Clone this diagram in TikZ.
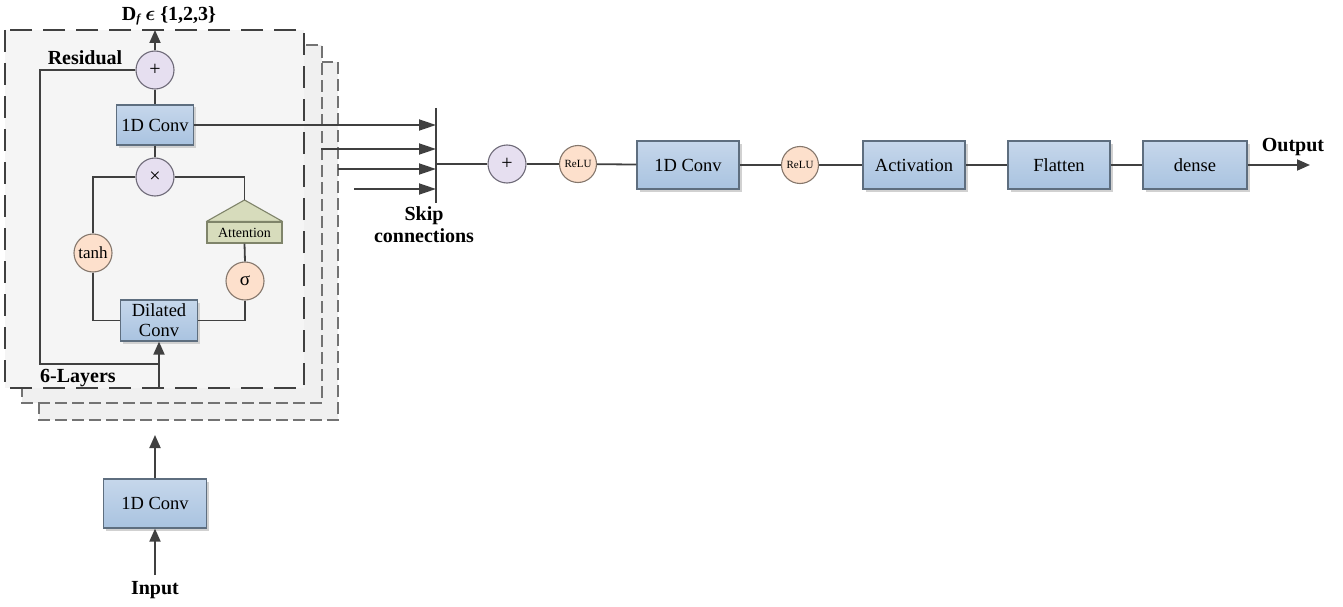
\documentclass[tikz,border=0pt]{standalone}
\usepackage{fontspec}
\setmainfont{Liberation Serif}
\usetikzlibrary{arrows.meta,shadows,calc}
\definecolor{ln}{HTML}{404040}
\definecolor{boxtop}{HTML}{C6D7EB}
\definecolor{boxbot}{HTML}{A9C3E0}
\definecolor{boxdraw}{HTML}{5E6E7F}
\definecolor{lav}{HTML}{E6DFF0}
\definecolor{lavdraw}{HTML}{6E6A78}
\definecolor{org}{HTML}{FDE0CC}
\definecolor{orgdraw}{HTML}{85776C}
\definecolor{olive}{HTML}{D7DCBC}
\definecolor{olivedraw}{HTML}{7F846A}
\tikzset{
  lin/.style={draw=ln, line width=1.8pt},
  arr/.style={lin, -{Triangle[length=13pt,width=11pt]}},
  sarr/.style={lin, -{Triangle[length=17pt,width=11pt]}},
  bx/.style={draw=boxdraw, line width=1.2pt, top color=boxtop, bottom color=boxbot,
    inner sep=0pt, align=center, font=\fontsize{18.5}{20}\selectfont,
    general shadow={shadow xshift=2.5pt, shadow yshift=-2.5pt, fill=black!18}},
  opc/.style={circle, draw=lavdraw, line width=1.1pt, fill=lav, minimum size=38pt, inner sep=0pt,
    font=\fontsize{20}{20}\selectfont},
  actc/.style={circle, draw=orgdraw, line width=1.1pt, fill=org, minimum size=38pt, inner sep=0pt},
  lbl/.style={font=\fontsize{20}{22}\selectfont\bfseries, align=center, inner sep=0pt},
  frontframe/.style={draw=ln, line width=1.8pt, dash pattern=on 22pt off 11pt, fill=black!4},
  backframe/.style={draw=black!55, line width=1.4pt, dash pattern=on 12pt off 5pt, fill=black!6},
}
\begin{document}
\begin{tikzpicture}[x=1pt,y=-1pt]
\useasboundingbox (0,0) rectangle (1343,607);
% stacked frames
\path[backframe] (39,62) rectangle (338,420);
\path[backframe] (22,45) rectangle (322,403);
\path[frontframe] (5,30) rectangle (304,388);
% inner block
\node[opc] (plus1) at (155,70) {+};
\node[bx, minimum width=77pt, minimum height=40pt] (conv1) at (155,125) {1D Conv};
\node[opc] (times) at (155,177) {×};
\node[actc, font=\fontsize{17}{17}\selectfont] (tanh) at (93,253) {tanh};
\node[draw=olivedraw, line width=1.1pt, fill=olive, minimum width=75pt, minimum height=21pt,
  inner sep=0pt, font=\fontsize{14}{14}\selectfont] (att) at (244.5,232.5) {Attention};
\coordinate (atttop) at (244.5,200);
\filldraw[draw=olivedraw, line width=1.1pt, fill=olive, line join=round]
  (att.north west) -- (atttop) -- (att.north east) -- cycle;
\node[actc, font=\fontsize{19}{19}\selectfont] (sig) at (245,281) {σ};
\node[bx, minimum width=77pt, minimum height=41pt] (dil) at (159,320.5) {Dilated\\Conv};
\coordinate (dtop) at (155,30);
\coordinate (rl) at (40,364);
\coordinate (rj) at (159,364);
\coordinate (fb) at (159,388);
\draw[arr] (plus1.north) -- (dtop);
\draw[lin] (plus1) -- (conv1);
\draw[lin] (conv1) -- (times);
\draw[lin] (times.west) -| (tanh.north);
\draw[lin] (tanh.south) |- (dil.west);
\draw[lin] (times.east) -| (atttop);
\draw[lin] (att.south) -- (sig.north);
\draw[lin] (sig.south) |- (dil.east);
\draw[lin] (plus1.west) -| (rl) -- (rj);
\draw[arr] (fb) -- (dil.south);
\node[lbl] (dflbl) at (169,16) {D\raisebox{-2.5pt}{\fontsize{12}{12}\selectfont\itshape f} {\boldmath$\epsilon$} \{1,2,3\}};
\node[lbl] (reslbl) at (85,58) {Residual};
\node[lbl] (laylbl) at (78,378) {6-Layers};
% input
\node[bx, minimum width=103pt, minimum height=49pt] (conv0) at (155,503.5) {1D Conv};
\coordinate (inp) at (155,575);
\coordinate (frbot) at (155,435);
\draw[arr] (inp) -- (conv0.south);
\draw[arr] (conv0.north) -- (frbot);
\node[lbl] (inlbl) at (155,590) {Input};
% skip connections
\coordinate (bt) at (436,108);
\coordinate (bb) at (436,203);
\coordinate (bm) at (436,164);
\coordinate (s2) at (321,149);
\coordinate (s3) at (338,169);
\coordinate (s4) at (354,189);
\draw[lin] (bt) -- (bb);
\draw[sarr] (conv1.east) -- (conv1.east -| bt);
\draw[sarr] (s2) -- (s2 -| bt);
\draw[sarr] (s3) -- (s3 -| bt);
\draw[sarr] (s4) -- (s4 -| bt);
\node[lbl] (skiplbl) at (424,225) {Skip\\connections};
% main chain
\node[opc] (plus2) at (507,164) {+};
\node[actc, minimum width=37pt, minimum height=36pt, font=\fontsize{11}{11}\selectfont] (relu1) at (578,164) {ReLU};
\node[bx, minimum width=102pt, minimum height=48pt] (conv2) at (688,165) {1D Conv};
\node[actc, minimum width=37pt, minimum height=36pt, font=\fontsize{11}{11}\selectfont] (relu2) at (800,165) {ReLU};
\node[bx, minimum width=102pt, minimum height=48pt] (act) at (914,165) {Activation};
\node[bx, minimum width=102pt, minimum height=48pt] (flat) at (1059,165) {Flatten};
\node[bx, minimum width=104pt, minimum height=48pt] (dense) at (1195,165) {dense};
\coordinate (out) at (1310,165);
\draw[lin] (bm) -- (plus2);
\draw[lin] (plus2) -- (relu1);
\draw[lin] (relu1) -- (conv2);
\draw[lin] (conv2) -- (relu2);
\draw[lin] (relu2) -- (act);
\draw[lin] (act) -- (flat);
\draw[lin] (flat) -- (dense);
\draw[arr] (dense) -- (out);
\node[lbl] (outlbl) at (1293,147) {Output};
\end{tikzpicture}
\end{document}
